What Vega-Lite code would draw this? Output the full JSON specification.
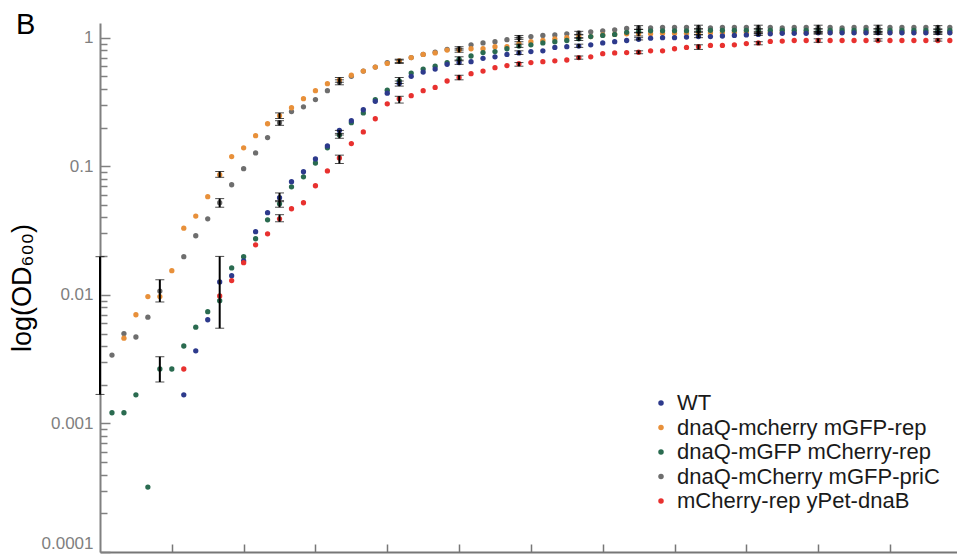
{
"$schema":"https://vega.github.io/schema/vega-lite/v6.json",
"width":857,"height":529,
"autosize":"none",
"padding":{"left":100,"top":23,"right":0,"bottom":6},
"background":"white",
"config":{"view":{"stroke":null},"font":"Liberation Sans"},
"title":{"text":"B","anchor":"start","frame":"group","dx":-84,"dy":12,"offset":-28,"baseline":"alphabetic","fontSize":29,"fontWeight":"normal","color":"black","font":"Liberation Sans"},
"datasets":{
"names":[{"s":"W","name":"WT"},{"s":"O","name":"dnaQ-mcherry mGFP-rep"},{"s":"N","name":"dnaQ-mGFP mCherry-rep"},{"s":"G","name":"dnaQ-mCherry mGFP-priC"},{"s":"R","name":"mCherry-rep yPet-dnaB"}],
"pts":[
{"s":"G","t":10,"v":0.0034},{"s":"G","t":20,"v":0.005},{"s":"G","t":30,"v":0.0047},{"s":"G","t":40,"v":0.0067},{"s":"G","t":50,"v":0.0107},{"s":"G","t":70,"v":0.0198},{"s":"G","t":80,"v":0.0288},{"s":"G","t":90,"v":0.039},{"s":"G","t":100,"v":0.052},{"s":"G","t":110,"v":0.0718},{"s":"G","t":120,"v":0.0957},{"s":"G","t":130,"v":0.127},{"s":"G","t":140,"v":0.167},{"s":"G","t":150,"v":0.218},{"s":"G","t":160,"v":0.266},{"s":"G","t":170,"v":0.29},{"s":"G","t":180,"v":0.33},{"s":"G","t":190,"v":0.387},{"s":"G","t":200,"v":0.45},{"s":"G","t":210,"v":0.5},{"s":"G","t":220,"v":0.55},{"s":"G","t":230,"v":0.59},{"s":"G","t":240,"v":0.64},{"s":"G","t":250,"v":0.66},{"s":"G","t":260,"v":0.7},{"s":"G","t":270,"v":0.74},{"s":"G","t":280,"v":0.77},{"s":"G","t":290,"v":0.81},{"s":"G","t":300,"v":0.82},{"s":"G","t":310,"v":0.88},{"s":"G","t":320,"v":0.91},{"s":"G","t":330,"v":0.93},{"s":"G","t":340,"v":0.965},{"s":"G","t":350,"v":1.0},{"s":"G","t":360,"v":1.02},{"s":"G","t":370,"v":1.04},{"s":"G","t":380,"v":1.05},{"s":"G","t":390,"v":1.07},{"s":"G","t":400,"v":1.09},{"s":"G","t":410,"v":1.11},{"s":"G","t":420,"v":1.13},{"s":"G","t":430,"v":1.15},{"s":"G","t":440,"v":1.18},{"s":"G","t":450,"v":1.19},{"s":"G","t":460,"v":1.19},{"s":"G","t":470,"v":1.2},{"s":"G","t":480,"v":1.2},{"s":"G","t":490,"v":1.2},{"s":"G","t":500,"v":1.2},{"s":"G","t":510,"v":1.19},{"s":"G","t":520,"v":1.2},{"s":"G","t":530,"v":1.2},{"s":"G","t":540,"v":1.2},{"s":"G","t":550,"v":1.2},{"s":"G","t":560,"v":1.2},{"s":"G","t":570,"v":1.19},{"s":"G","t":580,"v":1.2},{"s":"G","t":590,"v":1.2},{"s":"G","t":600,"v":1.2},{"s":"G","t":610,"v":1.2},{"s":"G","t":620,"v":1.19},{"s":"G","t":630,"v":1.2},{"s":"G","t":640,"v":1.2},{"s":"G","t":650,"v":1.2},{"s":"G","t":660,"v":1.2},{"s":"G","t":670,"v":1.2},{"s":"G","t":680,"v":1.2},{"s":"G","t":690,"v":1.2},{"s":"G","t":700,"v":1.2},{"s":"G","t":710,"v":1.2},
{"s":"O","t":20,"v":0.0046},{"s":"O","t":30,"v":0.007},{"s":"O","t":40,"v":0.0097},{"s":"O","t":50,"v":0.0097},{"s":"O","t":60,"v":0.0154},{"s":"O","t":70,"v":0.033},{"s":"O","t":80,"v":0.041},{"s":"O","t":90,"v":0.058},{"s":"O","t":100,"v":0.086},{"s":"O","t":110,"v":0.119},{"s":"O","t":120,"v":0.139},{"s":"O","t":130,"v":0.173},{"s":"O","t":140,"v":0.214},{"s":"O","t":150,"v":0.247},{"s":"O","t":160,"v":0.285},{"s":"O","t":170,"v":0.335},{"s":"O","t":180,"v":0.387},{"s":"O","t":190,"v":0.439},{"s":"O","t":200,"v":0.47},{"s":"O","t":210,"v":0.51},{"s":"O","t":220,"v":0.55},{"s":"O","t":230,"v":0.59},{"s":"O","t":240,"v":0.63},{"s":"O","t":250,"v":0.66},{"s":"O","t":260,"v":0.7},{"s":"O","t":270,"v":0.74},{"s":"O","t":280,"v":0.76},{"s":"O","t":290,"v":0.8},{"s":"O","t":300,"v":0.8},{"s":"O","t":310,"v":0.82},{"s":"O","t":320,"v":0.82},{"s":"O","t":330,"v":0.85},{"s":"O","t":340,"v":0.85},{"s":"O","t":350,"v":0.9},{"s":"O","t":360,"v":0.93},{"s":"O","t":370,"v":0.95},{"s":"O","t":380,"v":0.98},{"s":"O","t":390,"v":1.0},{"s":"O","t":400,"v":1.02},{"s":"O","t":410,"v":1.02},{"s":"O","t":420,"v":1.05},{"s":"O","t":430,"v":1.06},{"s":"O","t":440,"v":1.07},{"s":"O","t":450,"v":1.07},{"s":"O","t":460,"v":1.07},{"s":"O","t":470,"v":1.08},{"s":"O","t":480,"v":1.08},{"s":"O","t":490,"v":1.08},{"s":"O","t":500,"v":1.09},{"s":"O","t":510,"v":1.09},{"s":"O","t":520,"v":1.09},{"s":"O","t":530,"v":1.1},{"s":"O","t":540,"v":1.1},{"s":"O","t":550,"v":1.09},{"s":"O","t":560,"v":1.1},{"s":"O","t":570,"v":1.1},{"s":"O","t":580,"v":1.1},{"s":"O","t":590,"v":1.1},{"s":"O","t":600,"v":1.1},{"s":"O","t":610,"v":1.1},{"s":"O","t":620,"v":1.1},{"s":"O","t":630,"v":1.1},{"s":"O","t":640,"v":1.1},{"s":"O","t":650,"v":1.1},{"s":"O","t":660,"v":1.1},{"s":"O","t":670,"v":1.1},{"s":"O","t":680,"v":1.1},{"s":"O","t":690,"v":1.1},{"s":"O","t":700,"v":1.1},{"s":"O","t":710,"v":1.1},
{"s":"N","t":10,"v":0.00121},{"s":"N","t":20,"v":0.00121},{"s":"N","t":30,"v":0.00167},{"s":"N","t":40,"v":0.00032},{"s":"N","t":50,"v":0.00265},{"s":"N","t":60,"v":0.00265},{"s":"N","t":70,"v":0.004},{"s":"N","t":80,"v":0.0056},{"s":"N","t":90,"v":0.0074},{"s":"N","t":100,"v":0.009},{"s":"N","t":110,"v":0.0162},{"s":"N","t":120,"v":0.0198},{"s":"N","t":130,"v":0.0273},{"s":"N","t":140,"v":0.0383},{"s":"N","t":150,"v":0.051},{"s":"N","t":160,"v":0.0692},{"s":"N","t":170,"v":0.0828},{"s":"N","t":180,"v":0.106},{"s":"N","t":190,"v":0.139},{"s":"N","t":200,"v":0.175},{"s":"N","t":210,"v":0.218},{"s":"N","t":220,"v":0.26},{"s":"N","t":230,"v":0.33},{"s":"N","t":240,"v":0.39},{"s":"N","t":250,"v":0.46},{"s":"N","t":260,"v":0.53},{"s":"N","t":270,"v":0.57},{"s":"N","t":280,"v":0.6},{"s":"N","t":290,"v":0.64},{"s":"N","t":300,"v":0.68},{"s":"N","t":310,"v":0.72},{"s":"N","t":320,"v":0.765},{"s":"N","t":330,"v":0.78},{"s":"N","t":340,"v":0.82},{"s":"N","t":350,"v":0.86},{"s":"N","t":360,"v":0.88},{"s":"N","t":370,"v":0.91},{"s":"N","t":380,"v":0.93},{"s":"N","t":390,"v":0.95},{"s":"N","t":400,"v":0.98},{"s":"N","t":410,"v":1.02},{"s":"N","t":420,"v":1.04},{"s":"N","t":430,"v":1.06},{"s":"N","t":440,"v":1.1},{"s":"N","t":450,"v":1.12},{"s":"N","t":460,"v":1.13},{"s":"N","t":470,"v":1.13},{"s":"N","t":480,"v":1.13},{"s":"N","t":490,"v":1.13},{"s":"N","t":500,"v":1.13},{"s":"N","t":510,"v":1.14},{"s":"N","t":520,"v":1.14},{"s":"N","t":530,"v":1.14},{"s":"N","t":540,"v":1.14},{"s":"N","t":550,"v":1.14},{"s":"N","t":560,"v":1.14},{"s":"N","t":570,"v":1.14},{"s":"N","t":580,"v":1.14},{"s":"N","t":590,"v":1.14},{"s":"N","t":600,"v":1.14},{"s":"N","t":610,"v":1.14},{"s":"N","t":620,"v":1.14},{"s":"N","t":630,"v":1.14},{"s":"N","t":640,"v":1.14},{"s":"N","t":650,"v":1.14},{"s":"N","t":660,"v":1.14},{"s":"N","t":670,"v":1.14},{"s":"N","t":680,"v":1.14},{"s":"N","t":690,"v":1.14},{"s":"N","t":700,"v":1.14},{"s":"N","t":710,"v":1.14},
{"s":"W","t":70,"v":0.00167},{"s":"W","t":80,"v":0.00367},{"s":"W","t":90,"v":0.0064},{"s":"W","t":100,"v":0.0126},{"s":"W","t":110,"v":0.0141},{"s":"W","t":120,"v":0.0184},{"s":"W","t":130,"v":0.031},{"s":"W","t":140,"v":0.0435},{"s":"W","t":150,"v":0.0569},{"s":"W","t":160,"v":0.0758},{"s":"W","t":170,"v":0.0906},{"s":"W","t":180,"v":0.114},{"s":"W","t":190,"v":0.144},{"s":"W","t":200,"v":0.19},{"s":"W","t":210,"v":0.226},{"s":"W","t":220,"v":0.275},{"s":"W","t":230,"v":0.32},{"s":"W","t":240,"v":0.37},{"s":"W","t":250,"v":0.44},{"s":"W","t":260,"v":0.5},{"s":"W","t":270,"v":0.54},{"s":"W","t":280,"v":0.57},{"s":"W","t":290,"v":0.62},{"s":"W","t":300,"v":0.64},{"s":"W","t":310,"v":0.65},{"s":"W","t":320,"v":0.69},{"s":"W","t":330,"v":0.71},{"s":"W","t":340,"v":0.74},{"s":"W","t":350,"v":0.76},{"s":"W","t":360,"v":0.78},{"s":"W","t":370,"v":0.79},{"s":"W","t":380,"v":0.84},{"s":"W","t":390,"v":0.85},{"s":"W","t":400,"v":0.86},{"s":"W","t":410,"v":0.88},{"s":"W","t":420,"v":0.91},{"s":"W","t":430,"v":0.93},{"s":"W","t":440,"v":0.95},{"s":"W","t":450,"v":0.97},{"s":"W","t":460,"v":0.99},{"s":"W","t":470,"v":1.0},{"s":"W","t":480,"v":1.0},{"s":"W","t":490,"v":1.01},{"s":"W","t":500,"v":1.02},{"s":"W","t":510,"v":1.02},{"s":"W","t":520,"v":1.03},{"s":"W","t":530,"v":1.04},{"s":"W","t":540,"v":1.05},{"s":"W","t":550,"v":1.06},{"s":"W","t":560,"v":1.07},{"s":"W","t":570,"v":1.08},{"s":"W","t":580,"v":1.08},{"s":"W","t":590,"v":1.08},{"s":"W","t":600,"v":1.09},{"s":"W","t":610,"v":1.09},{"s":"W","t":620,"v":1.09},{"s":"W","t":630,"v":1.09},{"s":"W","t":640,"v":1.09},{"s":"W","t":650,"v":1.09},{"s":"W","t":660,"v":1.09},{"s":"W","t":670,"v":1.09},{"s":"W","t":680,"v":1.09},{"s":"W","t":690,"v":1.09},{"s":"W","t":700,"v":1.09},{"s":"W","t":710,"v":1.09},
{"s":"R","t":70,"v":0.00265},{"s":"R","t":100,"v":0.0098},{"s":"R","t":110,"v":0.0129},{"s":"R","t":120,"v":0.0178},{"s":"R","t":130,"v":0.0245},{"s":"R","t":140,"v":0.0298},{"s":"R","t":150,"v":0.039},{"s":"R","t":160,"v":0.0467},{"s":"R","t":170,"v":0.052},{"s":"R","t":180,"v":0.0705},{"s":"R","t":190,"v":0.092},{"s":"R","t":200,"v":0.116},{"s":"R","t":210,"v":0.15},{"s":"R","t":220,"v":0.185},{"s":"R","t":230,"v":0.234},{"s":"R","t":240,"v":0.306},{"s":"R","t":250,"v":0.335},{"s":"R","t":260,"v":0.354},{"s":"R","t":270,"v":0.387},{"s":"R","t":280,"v":0.41},{"s":"R","t":290,"v":0.46},{"s":"R","t":300,"v":0.49},{"s":"R","t":310,"v":0.525},{"s":"R","t":320,"v":0.55},{"s":"R","t":330,"v":0.584},{"s":"R","t":340,"v":0.606},{"s":"R","t":350,"v":0.628},{"s":"R","t":360,"v":0.64},{"s":"R","t":370,"v":0.65},{"s":"R","t":380,"v":0.66},{"s":"R","t":390,"v":0.67},{"s":"R","t":400,"v":0.7},{"s":"R","t":410,"v":0.71},{"s":"R","t":420,"v":0.75},{"s":"R","t":430,"v":0.76},{"s":"R","t":440,"v":0.765},{"s":"R","t":450,"v":0.77},{"s":"R","t":460,"v":0.79},{"s":"R","t":470,"v":0.79},{"s":"R","t":480,"v":0.82},{"s":"R","t":490,"v":0.84},{"s":"R","t":500,"v":0.85},{"s":"R","t":510,"v":0.87},{"s":"R","t":520,"v":0.87},{"s":"R","t":530,"v":0.88},{"s":"R","t":540,"v":0.9},{"s":"R","t":550,"v":0.91},{"s":"R","t":560,"v":0.935},{"s":"R","t":570,"v":0.94},{"s":"R","t":580,"v":0.95},{"s":"R","t":590,"v":0.95},{"s":"R","t":600,"v":0.95},{"s":"R","t":610,"v":0.95},{"s":"R","t":620,"v":0.95},{"s":"R","t":630,"v":0.95},{"s":"R","t":640,"v":0.95},{"s":"R","t":650,"v":0.95},{"s":"R","t":660,"v":0.95},{"s":"R","t":670,"v":0.95},{"s":"R","t":680,"v":0.95},{"s":"R","t":690,"v":0.95},{"s":"R","t":700,"v":0.95},{"s":"R","t":710,"v":0.95}
],
"err":[
{"t":0,"lo":0.00168,"hi":0.0198},
{"t":50,"lo":0.0088,"hi":0.0131},{"t":50,"lo":0.0021,"hi":0.0033},
{"t":100,"lo":0.082,"hi":0.091},{"t":100,"lo":0.048,"hi":0.056},{"t":100,"lo":0.0055,"hi":0.0199},
{"t":150,"lo":0.235,"hi":0.26},{"t":150,"lo":0.208,"hi":0.226},{"t":150,"lo":0.053,"hi":0.062},{"t":150,"lo":0.048,"hi":0.054},{"t":150,"lo":0.037,"hi":0.042},
{"t":200,"lo":0.45,"hi":0.49},{"t":200,"lo":0.43,"hi":0.47},{"t":200,"lo":0.175,"hi":0.19},{"t":200,"lo":0.165,"hi":0.18},{"t":200,"lo":0.105,"hi":0.122},
{"t":250,"lo":0.64,"hi":0.68},{"t":250,"lo":0.63,"hi":0.67},{"t":250,"lo":0.44,"hi":0.49},{"t":250,"lo":0.42,"hi":0.46},{"t":250,"lo":0.31,"hi":0.35},
{"t":300,"lo":0.8,"hi":0.85},{"t":300,"lo":0.77,"hi":0.82},{"t":300,"lo":0.66,"hi":0.71},{"t":300,"lo":0.62,"hi":0.67},{"t":300,"lo":0.47,"hi":0.51},
{"t":350,"lo":0.97,"hi":1.04},{"t":350,"lo":0.93,"hi":1.0},{"t":350,"lo":0.84,"hi":0.89},{"t":350,"lo":0.74,"hi":0.79},{"t":350,"lo":0.6,"hi":0.64},
{"t":400,"lo":1.06,"hi":1.12},{"t":400,"lo":0.99,"hi":1.05},{"t":400,"lo":0.95,"hi":1.0},{"t":400,"lo":0.84,"hi":0.89},{"t":400,"lo":0.68,"hi":0.72},
{"t":450,"lo":1.16,"hi":1.24},{"t":450,"lo":1.09,"hi":1.16},{"t":450,"lo":1.03,"hi":1.1},{"t":450,"lo":0.96,"hi":1.0},{"t":450,"lo":0.75,"hi":0.79},
{"t":500,"lo":1.17,"hi":1.25},{"t":500,"lo":1.1,"hi":1.17},{"t":500,"lo":1.06,"hi":1.12},{"t":500,"lo":1.0,"hi":1.05},{"t":500,"lo":0.81,"hi":0.88},
{"t":550,"lo":1.17,"hi":1.25},{"t":550,"lo":1.1,"hi":1.17},{"t":550,"lo":1.07,"hi":1.12},{"t":550,"lo":1.04,"hi":1.08},{"t":550,"lo":0.88,"hi":0.93},
{"t":600,"lo":1.17,"hi":1.25},{"t":600,"lo":1.1,"hi":1.17},{"t":600,"lo":1.07,"hi":1.12},{"t":600,"lo":1.07,"hi":1.11},{"t":600,"lo":0.92,"hi":0.98},
{"t":650,"lo":1.17,"hi":1.25},{"t":650,"lo":1.1,"hi":1.17},{"t":650,"lo":1.07,"hi":1.12},{"t":650,"lo":1.06,"hi":1.11},{"t":650,"lo":0.94,"hi":0.98},
{"t":700,"lo":1.17,"hi":1.24},{"t":700,"lo":1.1,"hi":1.16},{"t":700,"lo":1.07,"hi":1.12},{"t":700,"lo":1.06,"hi":1.11},{"t":700,"lo":0.94,"hi":0.98}
]
},
"layer":[
{"data":{"name":"pts"},
"transform":[{"lookup":"s","from":{"data":{"name":"names"},"key":"s","fields":["name"]}}],
"mark":{"type":"circle","size":28,"opacity":1},
"encoding":{
"x":{"field":"t","type":"quantitative","scale":{"domain":[0,716],"nice":false,"zero":false},
"axis":{"title":null,"labels":false,"grid":false,"values":[60,120,180,240,300,360,420,480,540,600,660],"tickSize":-8,"tickColor":"#777777","tickWidth":1.5,"domainColor":"#777777","domainWidth":2}},
"y":{"field":"v","type":"quantitative","title":"log(OD₆₀₀)","scale":{"type":"log","domain":[0.0001,1.3],"nice":false},
"axis":{"titleFontSize":27,"titleFontWeight":"normal","titleColor":"black","titleFont":"Liberation Sans","titlePadding":5,
"grid":false,"domainColor":"#808080","domainWidth":2,"tickColor":"#808080","tickWidth":1.5,
"values":[0.0001,0.0002,0.0003,0.0004,0.0005,0.0006,0.0007,0.0008,0.0009,0.001,0.002,0.003,0.004,0.005,0.006,0.007,0.008,0.009,0.01,0.02,0.03,0.04,0.05,0.06,0.07,0.08,0.09,0.1,0.2,0.3,0.4,0.5,0.6,0.7,0.8,0.9,1],
"tickSize":{"condition":{"test":"datum.value == 1 || datum.value == 0.1 || datum.value == 0.01 || datum.value == 0.001 || datum.value == 0.0001","value":-10},"value":-7},
"labelExpr":"datum.value == 1 ? '1' : datum.value == 0.1 ? '0.1' : datum.value == 0.01 ? '0.01' : datum.value == 0.001 ? '0.001' : datum.value == 0.0001 ? '0.0001' : ''",
"labelFontSize":17,"labelColor":"#808080","labelPadding":17,"labelFont":"Liberation Sans","labelFlush":true}},
"color":{"field":"name","type":"nominal",
"scale":{"domain":["WT","dnaQ-mcherry mGFP-rep","dnaQ-mGFP mCherry-rep","dnaQ-mCherry mGFP-priC","mCherry-rep yPet-dnaB"],"range":["#2d3a8c","#e8903a","#2a6b50","#6e6e6e","#e8312f"]},
"legend":{"title":null,"orient":"none","legendX":550,"legendY":369,"padding":0,"labelFontSize":22,"labelFont":"Liberation Sans","labelColor":"#1a1a1a","labelLimit":400,"symbolType":"circle","symbolSize":30,"symbolStrokeWidth":0,"rowPadding":2.5,"labelOffset":5}}
}},
{"data":{"name":"err"},
"mark":{"type":"errorbar","color":"black","ticks":{"size":9,"strokeWidth":4,"color":"black"},"rule":{"strokeWidth":2,"color":"black"}},
"encoding":{
"x":{"field":"t","type":"quantitative"},
"y":{"field":"lo","type":"quantitative","title":"log(OD₆₀₀)"},
"y2":{"field":"hi"}
}}
]
}
